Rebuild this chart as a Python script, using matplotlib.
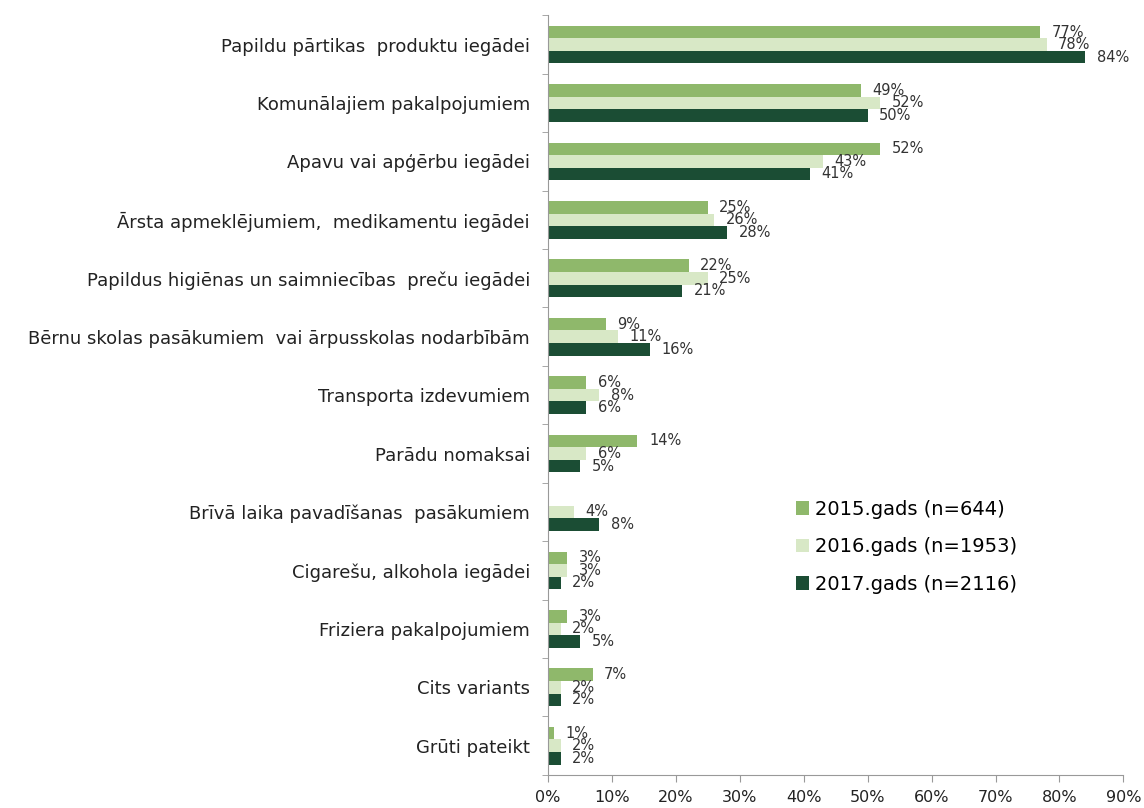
import numpy as np
import matplotlib
matplotlib.use("Agg")
import matplotlib.pyplot as plt
from matplotlib.ticker import FixedLocator, FuncFormatter

# categories, top to bottom
categories = [
    "Papildu pārtikas  produktu iegādei",
    "Komunālajiem pakalpojumiem",
    "Apavu vai apģērbu iegādei",
    "Ārsta apmeklējumiem,  medikamentu iegādei",
    "Papildus higiēnas un saimniecības  preču iegādei",
    "Bērnu skolas pasākumiem  vai ārpusskolas nodarbībām",
    "Transporta izdevumiem",
    "Parādu nomaksai",
    "Brīvā laika pavadīšanas  pasākumiem",
    "Cigarešu, alkohola iegādei",
    "Friziera pakalpojumiem",
    "Cits variants",
    "Grūti pateikt",
]
# percentages per year (0 = no bar in the source)
y2015 = [77, 49, 52, 25, 22, 9, 6, 14, 0, 3, 3, 7, 1]
y2016 = [78, 52, 43, 26, 25, 11, 8, 6, 4, 3, 2, 2, 2]
y2017 = [84, 50, 41, 28, 21, 16, 6, 5, 8, 2, 5, 2, 2]
series_names = ["2015.gads (n=644)", "2016.gads (n=1953)", "2017.gads (n=2116)"]
colours = ["#8fb86b", "#d8e8c6", "#1b4d34"]
xticks = [0, 10, 20, 30, 40, 50, 60, 70, 80, 90]

fig = plt.figure(figsize=(11.44, 8.08), dpi=100)
ax = fig.add_axes([0.479, 0.041, 0.503, 0.94])

n = len(categories)
pos = np.arange(n)
bh = 0.215
for i, (vals, col, name) in enumerate(zip([y2015, y2016, y2017], colours, series_names)):
    yy = pos + (i - 1) * bh
    ax.barh(yy, vals, height=bh, color=col, label=name)
    # value labels right of each bar
    for y, v in zip(yy, vals):
        if v > 0:
            ax.text(v + 1.8, y, f"{v}%", va="center", ha="left",
                    fontsize=10.5, color="#333333")

ax.set_xlim(0, 90)
ax.set_ylim(n - 0.5, -0.5)
ax.set_yticks(pos)
ax.set_yticklabels(categories, fontsize=13, color="#222222")
ax.yaxis.set_minor_locator(FixedLocator(np.arange(-0.5, n, 1)))
ax.tick_params(axis="y", which="major", length=0, pad=13)
ax.tick_params(axis="y", which="minor", length=4, color="#999999")
ax.set_xticks(xticks)
ax.xaxis.set_major_formatter(FuncFormatter(lambda v, p: f"{v:.0f}%"))
ax.tick_params(axis="x", length=5, color="#999999", labelsize=11.5, labelcolor="#222222", pad=6)

for s in ["top", "right"]:
    ax.spines[s].set_visible(False)
for s in ["left", "bottom"]:
    ax.spines[s].set_color("#999999")

ax.legend(loc="upper left", bbox_to_anchor=(0.4, 0.385), frameon=False,
          fontsize=14, handlelength=0.7, handleheight=0.7,
          labelspacing=0.95, handletextpad=0.3)

fig.savefig("out.png", dpi=100)
